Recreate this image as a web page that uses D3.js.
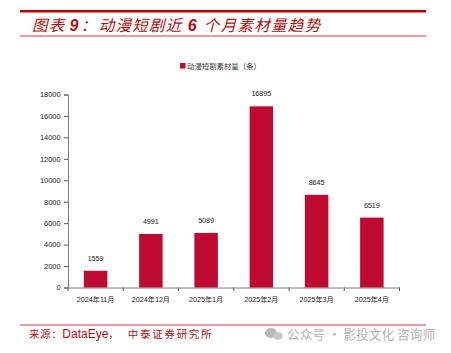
<html>
<head>
  <meta charset="utf-8" />
  <script src="https://cdn.jsdelivr.net/npm/d3@7"></script>
  <style>
    html, body { margin: 0; padding: 0; background: #fff; }
    svg { display: block; }
  </style>
</head>
<body>
<svg id="chart" width="451" height="353"></svg>
<script>
const months = ['2024年11月', '2024年12月', '2025年1月', '2025年2月', '2025年3月', '2025年4月']
const counts = [1559, 4991, 5089, 16895, 8645, 6519]
const yTicks = [0, 2000, 4000, 6000, 8000, 10000, 12000, 14000, 16000, 18000]

const sans = '"Liberation Sans", "Noto Sans CJK SC", sans-serif'
const cjk = '"Noto Sans CJK SC", sans-serif'
const svg = d3.select('#chart')

const x = d3.scaleBand().domain(months).range([68, 399.5]).paddingInner(0.575).paddingOuter(0.2875)
const y = d3.scaleLinear().domain([0, 18000]).range([287.5, 94.5])

// header rules
svg.append('rect').attr('x', 20).attr('y', 10).attr('width', 406).attr('height', 2.5).attr('fill', '#c00000')
svg.append('rect').attr('x', 20).attr('y', 35.5).attr('width', 406).attr('height', 1).attr('fill', '#d8304a')
svg.append('rect').attr('x', 20).attr('y', 324.5).attr('width', 406).attr('height', 1).attr('fill', '#d8304a')

const title = svg.append('text').attr('x', 32).attr('y', 31)
  .attr('fill', '#b01010').attr('font-size', 15.5).attr('font-style', 'italic')
  .attr('letter-spacing', 1.3).attr('font-family', cjk)
title.append('tspan').text('图表')
title.append('tspan').attr('dx', 4).text('9').attr('font-family', sans).attr('font-weight', 'bold').attr('font-size', 16)
title.append('tspan').text('：').attr('dx', 1)
title.append('tspan').text('动漫短剧近').attr('dx', 1)
title.append('tspan').attr('dx', 5).text('6').attr('font-family', sans).attr('font-weight', 'bold').attr('font-size', 16)
title.append('tspan').attr('dx', 6).text('个月素材量趋势')

// legend
svg.append('rect').attr('x', 180).attr('y', 63).attr('width', 5.5).attr('height', 5.5).attr('fill', '#be0a30')
svg.append('text').attr('x', 187).attr('y', 69).text('动漫短剧素材量（条）')
  .attr('font-size', 7.4).attr('font-family', cjk).attr('fill', '#333')

// axes
const yAxis = d3.axisLeft(y).tickValues(yTicks).tickSize(4).tickFormat(d3.format('d'))
const gy = svg.append('g').attr('transform', 'translate(68,0)').call(yAxis)
const xAxis = d3.axisBottom(x).tickSize(0)
const gx = svg.append('g').attr('transform', 'translate(0,287.5)').call(xAxis)

gy.selectAll('text').attr('font-size', 7.4).attr('font-family', sans).attr('fill', '#222').attr('x', -7.5)
gx.selectAll('text').attr('font-size', 7.2).attr('font-family', sans).attr('fill', '#222').attr('y', 9)
svg.selectAll('.domain').attr('stroke', '#808080').attr('stroke-width', 1)
svg.selectAll('.tick line').attr('stroke', '#555')

// x ticks sit between the categories
const step = x.step()
svg.append('g').selectAll('line')
  .data(d3.range(months.length + 1))
  .join('line')
  .attr('x1', i => 68 + i * step)
  .attr('x2', i => 68 + i * step)
  .attr('y1', 287.5)
  .attr('y2', 291)
  .attr('stroke', '#555')

svg.append('g').selectAll('rect')
  .data(counts)
  .join('rect')
  .attr('x', (d, i) => x(months[i]))
  .attr('y', d => y(d))
  .attr('width', x.bandwidth())
  .attr('height', d => y(0) - y(d))
  .attr('fill', '#be0a30')

svg.append('g').selectAll('text')
  .data(counts)
  .join('text')
  .attr('x', (d, i) => x(months[i]) + x.bandwidth() / 2)
  .attr('y', d => y(d) - 10)
  .attr('text-anchor', 'middle')
  .attr('font-size', 7.2)
  .attr('font-family', sans)
  .attr('fill', '#222')
  .text(d => d)

// footer
const source = svg.append('text').attr('x', 29).attr('y', 338)
  .attr('fill', '#b01010').attr('font-size', 10.5).attr('font-family', cjk)
source.append('tspan').text('来源：').attr('letter-spacing', 0.6)
source.append('tspan').text('DataEye').attr('font-family', sans).attr('font-size', 12)
source.append('tspan').text('，')
source.append('tspan').text('中泰证券研究所').attr('letter-spacing', 1.7).attr('dx', 9)

// watermark
svg.append('ellipse').attr('cx', 271).attr('cy', 333).attr('rx', 6).attr('ry', 5).attr('fill', '#b8b8b8')
svg.append('ellipse').attr('cx', 278).attr('cy', 336).attr('rx', 4.8).attr('ry', 4).attr('fill', '#c8c8c8')
svg.append('text').attr('x', 287).attr('y', 339).text('公众号 · 影投文化 咨询师')
  .attr('font-size', 12.7).attr('font-family', cjk).attr('fill', '#b4b4b4')
</script>
</body>
</html>
